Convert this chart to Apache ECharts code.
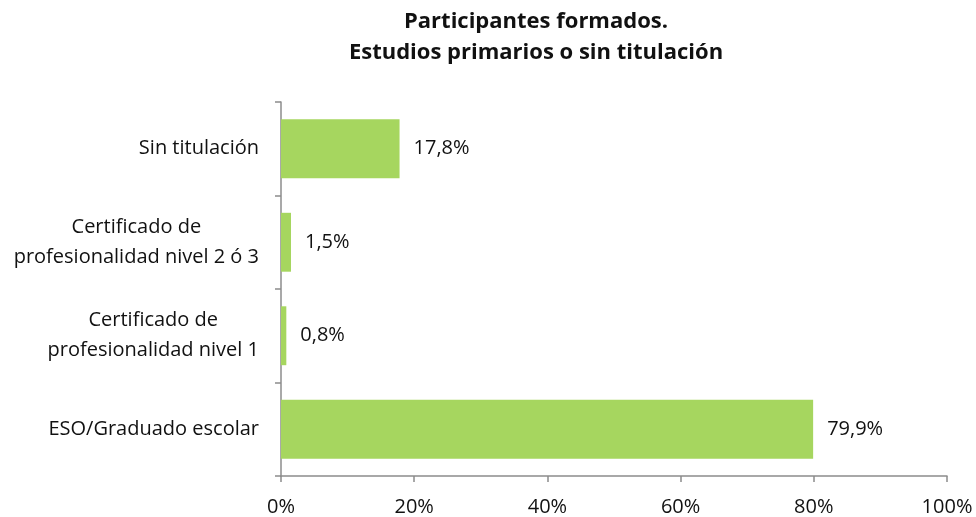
<!DOCTYPE html>
<html><head><meta charset="utf-8">
<script src="https://cdn.jsdelivr.net/npm/echarts@6/dist/echarts.min.js"></script>
<style>html,body{margin:0;padding:0;background:#fff}#c{width:976px;height:517px}</style>
</head><body><div id="c"></div>
<script>
const categories = ["ESO/Graduado escolar", "Certificado de\nprofesionalidad nivel 1", "Certificado de\nprofesionalidad nivel 2 ó 3", "Sin titulación"];
const values = [79.9, 0.8, 1.5, 17.8];
const titleLines = ["Participantes formados.", "Estudios primarios o sin titulación"];

const chart = echarts.init(document.getElementById('c'));
chart.setOption({
  animation: false,
  title: {
    text: titleLines.join('\n'),
    left: 531, top: 1, textAlign: 'center',
    textStyle: {fontFamily: 'Open Sans', fontWeight: 'bold', fontSize: 22, lineHeight: 31, color: '#111'}
  },
  grid: {left: 281, right: 29, top: 102, bottom: 39, containLabel: false},
  xAxis: {
    type: 'value', min: 0, max: 100, interval: 20,
    axisLine: {show: true, lineStyle: {color: '#8c8c8c', width: 1.5}},
    axisTick: {show: true, length: 6, lineStyle: {color: '#8c8c8c', width: 1.5}},
    splitLine: {show: false},
    axisLabel: {formatter: '{value}%', fontFamily: 'Open Sans', fontSize: 20, color: '#111', margin: 21}
  },
  yAxis: {
    type: 'category', data: categories,
    axisLine: {show: true, lineStyle: {color: '#8c8c8c', width: 1.5}},
    axisTick: {show: true, length: 6, lineStyle: {color: '#8c8c8c', width: 1.5}},
    axisLabel: {margin: 22, formatter: v => '{c|' + v + '}',
      rich: {c: {fontFamily: 'Open Sans', fontSize: 20, color: '#111', lineHeight: 30, align: 'center'}}}
  },
  series: [{
    type: 'bar', data: values, barCategoryGap: '37%',
    itemStyle: {color: '#a6d65f'},
    label: {show: true, position: 'right', distance: 14,
      formatter: p => p.value.toFixed(1).replace('.', ',') + '%',
      fontFamily: 'Open Sans', fontSize: 20, color: '#111'}
  }]
});
</script></body></html>
